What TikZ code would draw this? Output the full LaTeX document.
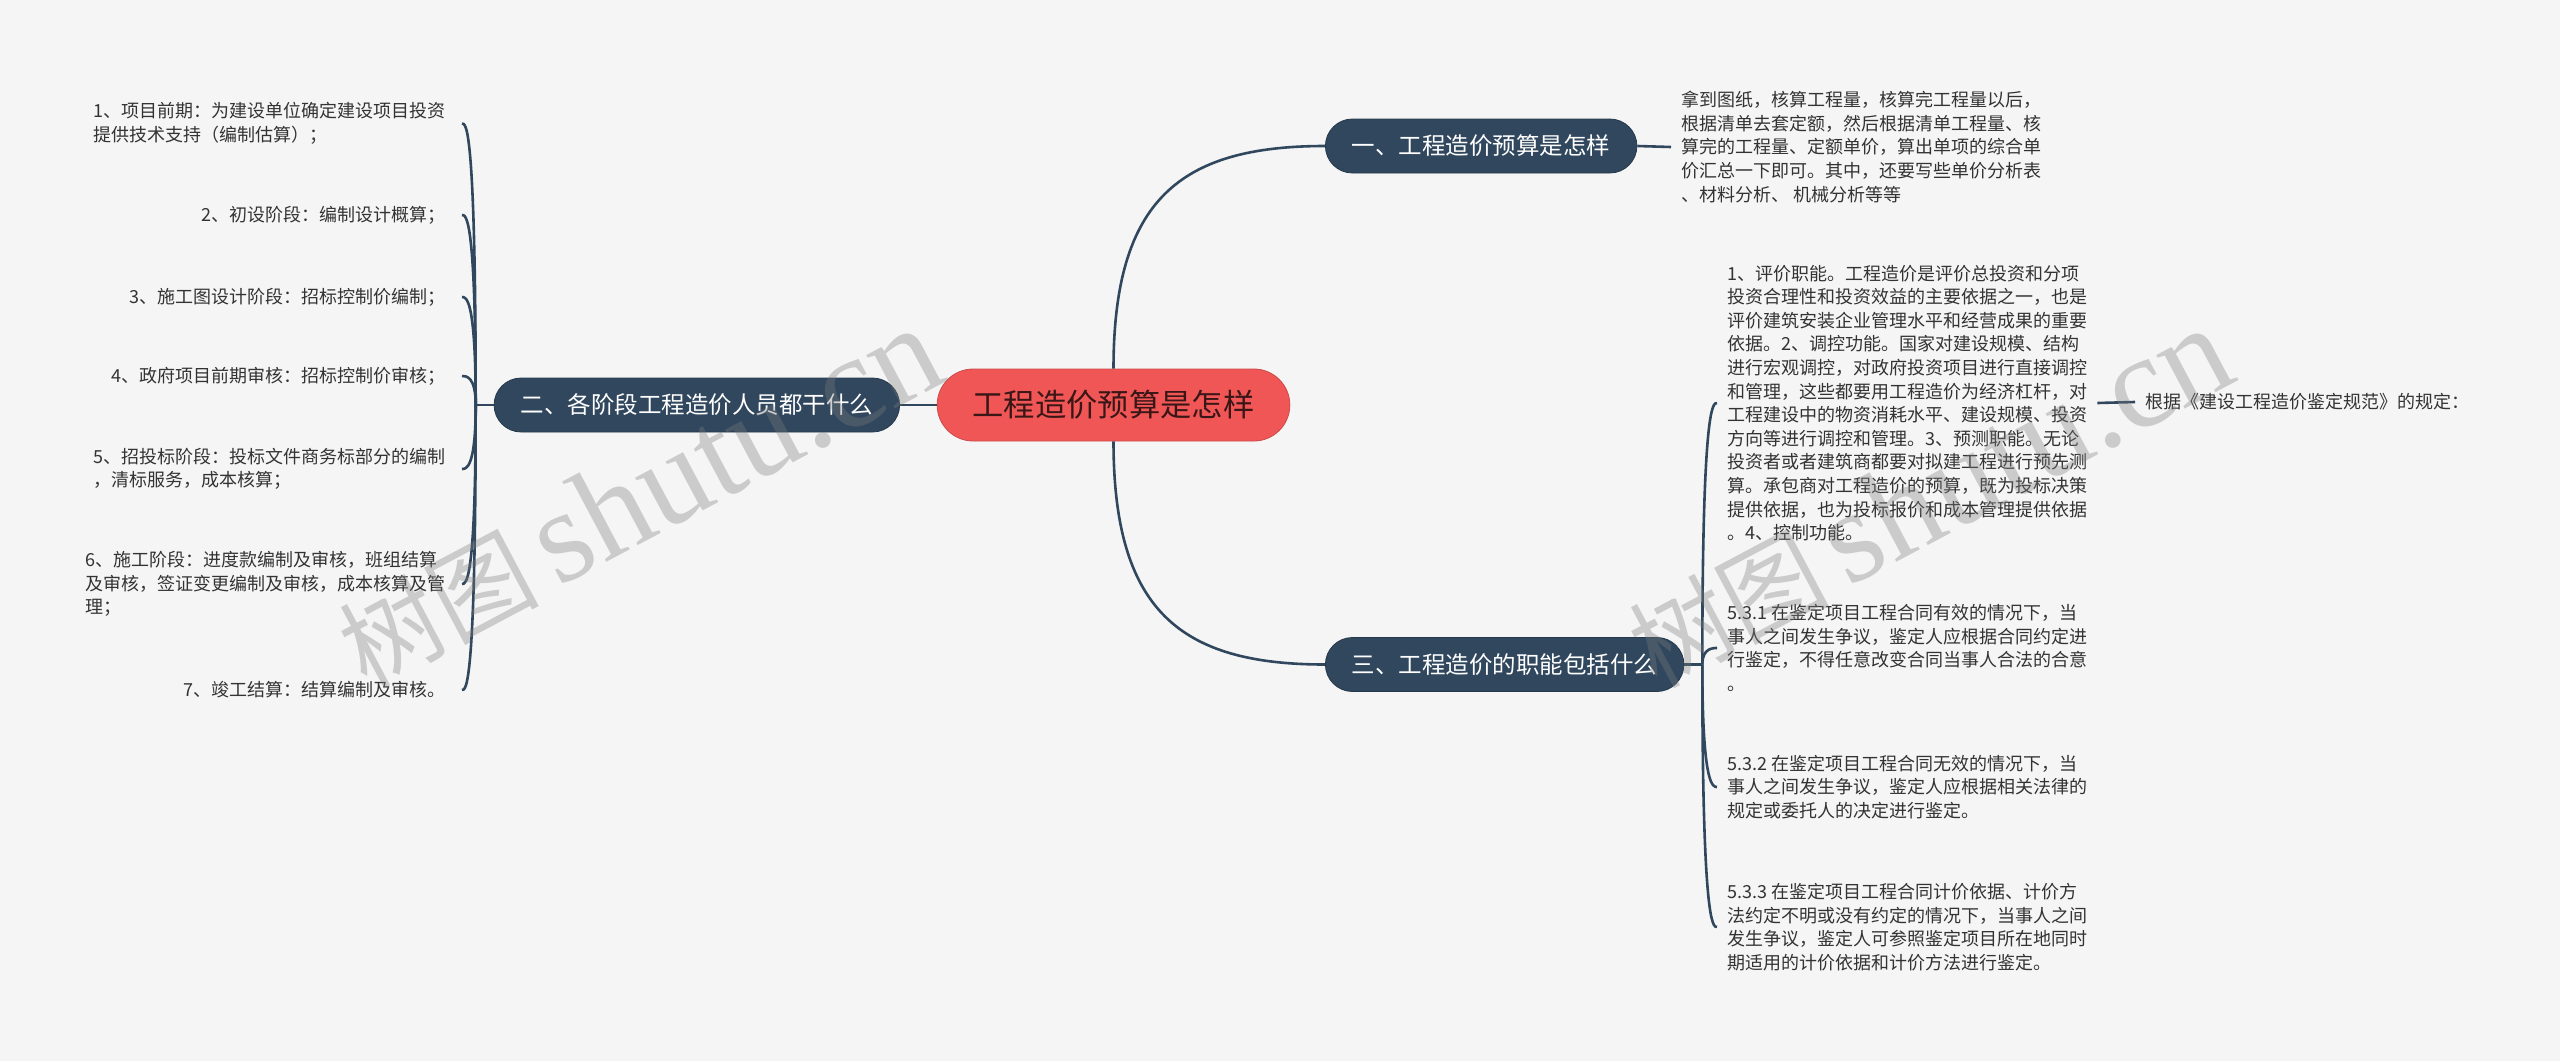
\documentclass[tikz,border=0pt]{standalone}
\usepackage{fontspec}
\setmainfont{Noto Sans CJK SC}
\newfontfamily\wmcjk{Noto Sans CJK SC}
\newfontfamily\wmserif{Liberation Serif}
\usetikzlibrary{calc}
\definecolor{bgc}{RGB}{245,245,245}
\definecolor{navy}{RGB}{48,71,94}
\definecolor{coral}{RGB}{240,86,86}
\definecolor{ctext}{RGB}{58,22,22}
\definecolor{itxt}{RGB}{51,51,51}
\definecolor{wmc}{RGB}{125,125,125}
\tikzset{
  topic/.style={fill=navy, draw=navy!80!black, line width=0.8pt, rounded corners=27pt,
    minimum height=54pt, inner xsep=26.5pt, inner ysep=0pt, text=white,
    font=\fontsize{23.5}{28}\selectfont},
  central/.style={fill=coral, draw=coral!85!black, line width=0.8pt, rounded corners=36pt,
    minimum height=72pt, inner xsep=35.5pt, inner ysep=0pt, text=ctext,
    font=\fontsize{31.3}{36}\selectfont},
  leaf/.style={text=itxt, align=left, inner ysep=0pt, font=\fontsize{18}{23.6}\selectfont},
  leafL/.style={leaf, inner xsep=16pt},
  leafR/.style={leaf, inner xsep=10pt},
  link/.style={draw=navy, line width=2.6pt},
  wmark/.style={rotate=28, text=wmc, text opacity=0.35, inner sep=0pt,
    font=\wmcjk\fontsize{100}{100}\selectfont},
}
\begin{document}
\begin{tikzpicture}[x=1pt,y=-1pt]
\useasboundingbox (0,0) rectangle (2560,1061);
\fill[bgc] (0,0) rectangle (2560,1061);

% main nodes
\node[central] (c) at (1113.5,405) {工程造价预算是怎样};
\node[topic, anchor=west] (n1) at (1325,146) {一、工程造价预算是怎样};
\node[topic, anchor=east] (n2) at (900,405) {二、各阶段工程造价人员都干什么};
\node[topic, anchor=west] (n3) at (1325,664.5) {三、工程造价的职能包括什么};

% left leaves
\node[leafL, anchor=east] (l1) at (462,123.5) {1、项目前期：为建设单位确定建设项目投资\\提供技术支持（编制估算）；};
\node[leafL, anchor=east] (l2) at (462,215) {2、初设阶段：编制设计概算；};
\node[leafL, anchor=east] (l3) at (462,297) {3、施工图设计阶段：招标控制价编制；};
\node[leafL, anchor=east] (l4) at (462,376) {4、政府项目前期审核：招标控制价审核；};
\node[leafL, anchor=east] (l5) at (462,469) {5、招投标阶段：投标文件商务标部分的编制\\，清标服务，成本核算；};
\node[leafL, anchor=east] (l6) at (462,584) {6、施工阶段：进度款编制及审核，班组结算\\及审核，签证变更编制及审核，成本核算及管\\理；};
\node[leafL, anchor=east] (l7) at (462,690) {7、竣工结算：结算编制及审核。};

% right leaves
\node[leafR, anchor=west] (t1) at (1671,147) {拿到图纸，核算工程量，核算完工程量以后，\\根据清单去套定额，然后根据清单工程量、核\\算完的工程量、定额单价，算出单项的综合单\\价汇总一下即可。其中，还要写些单价分析表\\、材料分析、 机械分析等等};
\node[leafR, anchor=west] (f1) at (1717,403) {1、评价职能。工程造价是评价总投资和分项\\投资合理性和投资效益的主要依据之一，也是\\评价建筑安装企业管理水平和经营成果的重要\\依据。2、调控功能。国家对建设规模、结构\\进行宏观调控，对政府投资项目进行直接调控\\和管理，这些都要用工程造价为经济杠杆，对\\工程建设中的物资消耗水平、建设规模、投资\\方向等进行调控和管理。3、预测职能。无论\\投资者或者建筑商都要对拟建工程进行预先测\\算。承包商对工程造价的预算，既为投标决策\\提供依据，也为投标报价和成本管理提供依据\\。4、控制功能。};
\node[leafR, anchor=west] (g1) at (2135,402) {根据《建设工程造价鉴定规范》的规定：};
\node[leafR, anchor=west] (f2) at (1717,648) {5.3.1 在鉴定项目工程合同有效的情况下，当\\事人之间发生争议，鉴定人应根据合同约定进\\行鉴定，不得任意改变合同当事人合法的合意\\。};
\node[leafR, anchor=west] (f3) at (1717,787) {5.3.2 在鉴定项目工程合同无效的情况下，当\\事人之间发生争议，鉴定人应根据相关法律的\\规定或委托人的决定进行鉴定。};
\node[leafR, anchor=west] (f4) at (1717,927) {5.3.3 在鉴定项目工程合同计价依据、计价方\\法约定不明或没有约定的情况下，当事人之间\\发生争议，鉴定人可参照鉴定项目所在地同时\\期适用的计价依据和计价方法进行鉴定。};

% spines
\coordinate (s2) at ($(n2.west)+(-18,0)$);
\coordinate (s3) at ($(n3.east)+(18,0)$);

% connectors
\draw[link] (c.west) -- (n2.east);
\draw[link] (c.north) .. controls ($(c.north)+(0,-169)$) and ($(n1.west)+(-145,0)$) .. (n1.west);
\draw[link] (c.south) .. controls ($(c.south)+(0,169)$) and ($(n3.west)+(-145,0)$) .. (n3.west);
\draw[link] (n1.east) -- (t1.west);
\draw[link] (n2.west) -- (s2);
\foreach \l in {l1,l2,l3,l4,l5,l6,l7}
  \draw[link] (s2) .. controls (s2 |- \l.east) and ($(\l.east)+(4,0)$) .. (\l.east);
\draw[link] (n3.east) -- (s3);
\foreach \f in {f1,f2,f3,f4}
  \draw[link] (s3) .. controls (s3 |- \f.west) and ($(\f.west)+(-4,0)$) .. (\f.west);
\draw[link] (f1.east) -- (g1.west);

% watermarks
\node[wmark, anchor=base west] (w1) at (366,690) {树图\hspace{18pt}{\wmserif\fontsize{132}{132}\selectfont shutu.cn}};
\node[wmark, anchor=base west] (w2) at (1656,690) {树图\hspace{18pt}{\wmserif\fontsize{132}{132}\selectfont shutu.cn}};
\end{tikzpicture}
\end{document}
